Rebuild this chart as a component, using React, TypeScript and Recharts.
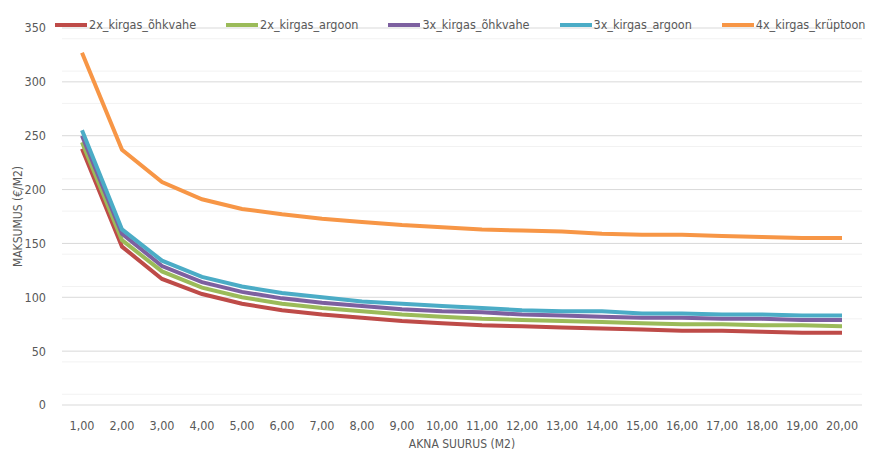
import React from 'react';
import { CartesianGrid, Line, LineChart, XAxis, YAxis, Legend } from 'recharts';

const sizes = ['1,00', '2,00', '3,00', '4,00', '5,00', '6,00', '7,00', '8,00', '9,00', '10,00',
  '11,00', '12,00', '13,00', '14,00', '15,00', '16,00', '17,00', '18,00', '19,00', '20,00'];

const double_air = [238, 147, 117, 103, 94, 88, 84, 81, 78, 76, 74, 73, 72, 71, 70, 69, 69, 68, 67, 67];
const double_argon = [244, 153, 124, 109, 100, 94, 90, 87, 84, 82, 80, 79, 78, 77, 76, 75, 75, 74, 74, 73];
const triple_air = [250, 159, 129, 114, 105, 99, 95, 92, 89, 87, 86, 84, 83, 82, 81, 81, 80, 80, 79, 79];
const triple_argon = [255, 163, 134, 119, 110, 104, 100, 96, 94, 92, 90, 88, 87, 87, 85, 85, 84, 84, 83, 83];
const quad_krypton = [327, 237, 207, 191, 182, 177, 173, 170, 167, 165, 163, 162, 161, 159, 158, 158, 157, 156, 155, 155];

const yTicks = [0, 50, 100, 150, 200, 250, 300, 350];
const minorTicks = [10, 20, 30, 40, 60, 70, 80, 90, 110, 120, 130, 140, 160, 170, 180, 190,
  210, 220, 230, 240, 260, 270, 280, 290, 310, 320, 330, 340];

const series = [
  { key: 'a', name: '2x_kirgas_õhkvahe', color: '#be4b48', values: double_air },
  { key: 'b', name: '2x_kirgas_argoon', color: '#9bbb59', values: double_argon },
  { key: 'c', name: '3x_kirgas_õhkvahe', color: '#7d60a0', values: triple_air },
  { key: 'd', name: '3x_kirgas_argoon', color: '#4bacc6', values: triple_argon },
  { key: 'e', name: '4x_kirgas_krüptoon', color: '#f79646', values: quad_krypton },
];

const data = sizes.map((s, i) => {
  const row: Record<string, string | number> = { size: s };
  series.forEach(sr => { row[sr.key] = sr.values[i]; });
  return row;
});

const FONT = '"Liberation Sans Narrow", "DejaVu Sans Condensed", "Liberation Sans", sans-serif';

function LegendRow() {
  return (
    <div style={{ display: 'flex', gap: 30, fontFamily: FONT, fontSize: 12.5, color: '#595959' }}>
      {series.map(s => (
        <div key={s.key} style={{ display: 'flex', alignItems: 'center' }}>
          <span style={{ display: 'inline-block', width: 32, height: 4, background: s.color, marginRight: 2 }} />
          <span>{s.name}</span>
        </div>
      ))}
    </div>
  );
}

export default function App() {
  return (
    <div style={{ position: 'absolute', left: 0, top: 0, background: '#fff' }}>
      <LineChart width={874} height={451} data={data} margin={{ top: 13, right: 12, bottom: 0, left: 0 }}>
        <CartesianGrid vertical={false} horizontalValues={minorTicks} stroke="#f2f2f2" />
        <CartesianGrid vertical={false} horizontalValues={yTicks} stroke="#d9d9d9" />
        <XAxis
          dataKey="size"
          height={46}
          padding={{ left: 20, right: 20 }}
          axisLine={false}
          tickLine={false}
          interval={0}
          tickMargin={10}
          tick={{ fill: '#595959', fontSize: 12.5, fontFamily: FONT }}
          label={{ value: 'AKNA SUURUS (M2)', position: 'insideBottom', offset: 3, fill: '#595959', fontSize: 12, fontFamily: FONT }}
        />
        <YAxis
          width={62}
          domain={[0, 350]}
          ticks={yTicks}
          axisLine={false}
          tickLine={false}
          tickMargin={10}
          tick={{ fill: '#595959', fontSize: 12.5, fontFamily: FONT }}
          label={{ value: 'MAKSUMUS (€/M2)', angle: -90, position: 'insideLeft', offset: 18, fill: '#595959', fontSize: 12, fontFamily: FONT, style: { textAnchor: 'middle' } }}
        />
        <Legend content={<LegendRow />} verticalAlign="top" wrapperStyle={{ top: 17, left: 55, width: 'auto' }} />
        {series.map(s => (
          <Line
            key={s.key}
            dataKey={s.key}
            name={s.name}
            stroke={s.color}
            strokeWidth={4}
            dot={false}
            type="linear"
            isAnimationActive={false}
          />
        ))}
      </LineChart>
    </div>
  );
}
